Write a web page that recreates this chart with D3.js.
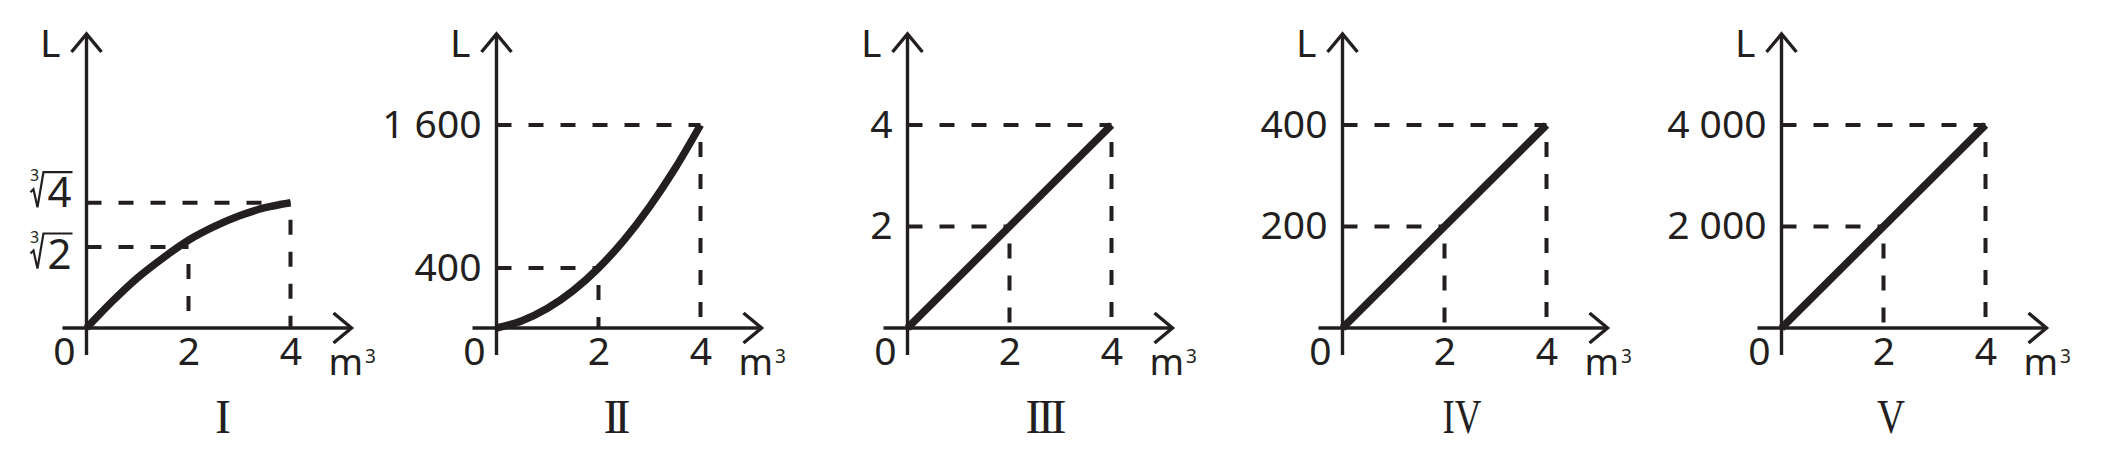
<!DOCTYPE html>
<html>
<head>
<meta charset="utf-8">
<script src="https://cdn.jsdelivr.net/npm/d3@7"></script>
<style>
  body { margin: 0; background: #fff; }
</style>
</head>
<body>
<svg width="2109" height="471"></svg>
<script>
// values
const panelNames = ["I", "II", "III", "IV", "V"];
const volumeTicks = [2, 4];
const levelTicks = [
    [1.26, 1.587],
    [400, 1600],
    [2, 4],
    [200, 400],
    [2000, 4000]
];
const levelLabels = [
    ["∛2", "∛4"],
    ["400", "1 600"],
    ["2", "4"],
    ["200", "400"],
    ["2 000", "4 000"]
];
const curveI = [[0, 0], [0.5, 0.41], [1, 0.78], [1.5, 1.09], [2, 1.31], [2.5, 1.41], [3, 1.49], [3.5, 1.55], [4, 1.587]];
const curveII = [[0, 0], [0.5, 48], [1, 131], [1.5, 248], [2, 400], [2.5, 634], [3, 913], [3.5, 1235], [4, 1600]];
const lineIII = [[0, 0], [4, 4]];
const lineIV = [[0, 0], [4, 400]];
const lineV = [[0, 0], [4, 4000]];
const series = [curveI, curveII, lineIII, lineIV, lineV];

// layout
const panelLeft = [86.5, 496.5, 907.5, 1342.5, 1781.5];
const levelPx = [[247, 202.7], [268, 125], [226.5, 125], [226.5, 125], [226.5, 125]];
const romanX = [223, 617, 1046, 1462, 1891];
const romanLen = [null, 27, 41, 39, 28];
const baseY = 328;
const topY = 32;
const ink = "#231f20";
const sans = "'Noto Sans', 'DejaVu Sans', sans-serif";

var svg = d3.select("svg");

svg.append("defs").append("marker")
    .attr("id", "arrow")
    .attr("markerUnits", "userSpaceOnUse")
    .attr("orient", "auto")
    .attr("viewBox", "-22 -20 26 40")
    .attr("markerWidth", 26)
    .attr("markerHeight", 40)
    .attr("refX", 0)
    .attr("refY", 0)
  .append("path")
    .attr("d", "M-18,-15L0,0L-18,15")
    .attr("fill", "none")
    .attr("stroke", ink)
    .attr("stroke-width", 3.4);

panelNames.forEach(function (name, i) {
    var x = d3.scaleLinear()
        .domain([0, 4])
        .range([panelLeft[i], panelLeft[i] + 204]);
    var y = d3.scaleLinear()
        .domain([0, levelTicks[i][0], levelTicks[i][1]])
        .range([baseY, levelPx[i][0], levelPx[i][1]]);

    var g = svg.append("g");

    // dashed guides
    volumeTicks.forEach(function (v, k) {
        var lv = levelTicks[i][k];
        g.append("line")
            .attr("x1", x(0)).attr("x2", x(v))
            .attr("y1", y(lv)).attr("y2", y(lv))
            .attr("stroke", ink).attr("stroke-width", 4)
            .attr("stroke-dasharray", "15 17");
        g.append("line")
            .attr("x1", x(v)).attr("x2", x(v))
            .attr("y1", y(lv)).attr("y2", y(0))
            .attr("stroke", ink).attr("stroke-width", 4)
            .attr("stroke-dasharray", "15 17")
            .attr("stroke-dashoffset", 15);
    });

    // axes lines with open arrows
    g.append("line")
        .attr("x1", x(0) - 24).attr("x2", x(4) + 61)
        .attr("y1", y(0)).attr("y2", y(0))
        .attr("stroke", ink).attr("stroke-width", 3.4)
        .attr("marker-end", "url(#arrow)");
    g.append("line")
        .attr("x1", x(0)).attr("x2", x(0))
        .attr("y1", y(0) + 27).attr("y2", topY + 2)
        .attr("stroke", ink).attr("stroke-width", 3.4)
        .attr("marker-end", "url(#arrow)");

    // tick labels
    var xAxis = d3.axisBottom(x)
        .tickValues(volumeTicks)
        .tickFormat(d3.format("d"))
        .tickSize(0)
        .tickPadding(9);
    g.append("g")
        .attr("transform", `translate(0, ${baseY})`)
        .call(xAxis)
        .call(a => a.select(".domain").remove())
        .attr("font-size", 39)
        .attr("font-family", sans)
        .attr("color", ink);

    var radical = name === "I";
    var yAxis = d3.axisLeft(y)
        .tickValues(levelTicks[i])
        .tickFormat((d, k) => radical ? levelLabels[i][k].slice(1) : levelLabels[i][k])
        .tickSize(0)
        .tickPadding(15);
    var ya = g.append("g")
        .attr("transform", `translate(${x(0)}, 0)`)
        .call(yAxis)
        .call(a => a.select(".domain").remove())
        .attr("font-size", 39)
        .attr("font-family", sans)
        .attr("color", ink);

    if (radical) {
        var shift = [21, 4];
        ya.selectAll(".tick").each(function (d, k) {
            var t = d3.select(this);
            var txt = t.select("text")
                .attr("font-size", 42)
                .attr("dy", shift[k]);
            var b = txt.node().getBBox();
            var L = b.x + 2, R = -15, B = shift[k], T = B - 35;
            t.append("path")
                .attr("d", `M${L - 19},${B - 15}L${L - 16},${B - 18}L${L - 12},${B}L${L - 6},${T}L${R + 1},${T}`)
                .attr("fill", "none")
                .attr("stroke", ink)
                .attr("stroke-width", 2.2)
                .attr("stroke-linejoin", "miter");
            t.append("text")
                .attr("x", L - 15)
                .attr("y", B - 26)
                .attr("text-anchor", "middle")
                .attr("font-size", 16)
                .attr("fill", ink)
                .text("3");
        });
    }

    g.append("text")
        .attr("x", x(0) - 22).attr("y", 365)
        .attr("text-anchor", "middle")
        .attr("font-family", sans).attr("font-size", 39)
        .attr("fill", ink)
        .text("0");

    g.append("text")
        .attr("x", x(0) - 26).attr("y", 57)
        .attr("text-anchor", "end")
        .attr("font-family", sans).attr("font-size", 39)
        .attr("fill", ink)
        .text("L");

    var unit = g.append("text")
        .attr("x", x(4) + 38).attr("y", 375)
        .attr("font-family", sans).attr("font-size", 37)
        .attr("fill", ink);
    unit.append("tspan").text("m");
    unit.append("tspan").attr("dx", 2).attr("dy", -12).attr("font-size", 19).text("3");

    // the line itself
    var line = d3.line()
        .x(d => x(d[0]))
        .y(d => y(d[1]))
        .curve(i < 2 ? d3.curveMonotoneX : d3.curveLinear);
    g.append("path")
        .attr("d", line(series[i]))
        .attr("fill", "none")
        .attr("stroke", ink)
        .attr("stroke-width", 7.5);

    var roman = g.append("text")
        .attr("x", romanX[i]).attr("y", 433)
        .attr("text-anchor", "middle")
        .attr("font-family", "'Liberation Serif', 'DejaVu Serif', serif")
        .attr("font-size", 48)
        .attr("fill", ink)
        .text(name);
    if (romanLen[i]) {
        roman.attr("textLength", romanLen[i])
            .attr("lengthAdjust", i < 3 ? "spacing" : "spacingAndGlyphs");
    }
});
</script>
</body>
</html>
